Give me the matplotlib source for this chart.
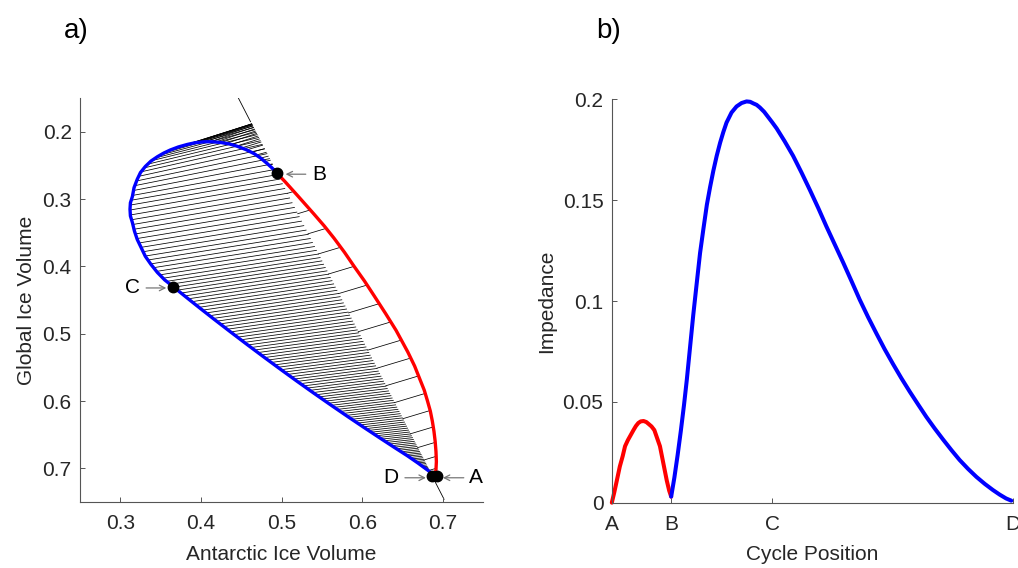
import numpy as np
import matplotlib.pyplot as plt

plt.rcParams['font.family'] = ['Liberation Sans', 'DejaVu Sans']

# panel a: loop in (Antarctic, Global) ice volume space
# blue part: B -> top -> C -> D
blue_x = [0.494, 0.488, 0.482, 0.474, 0.466, 0.456, 0.445, 0.435, 0.424, 0.414, 0.404,
          0.393, 0.383, 0.372, 0.362, 0.354, 0.346, 0.338, 0.331, 0.325, 0.321, 0.317,
          0.315, 0.3125, 0.312, 0.3125, 0.315, 0.3175, 0.321, 0.326, 0.331, 0.338, 0.346,
          0.355, 0.3655, 0.376, 0.387, 0.401, 0.416, 0.437, 0.458, 0.478, 0.499, 0.520,
          0.540, 0.561, 0.582, 0.602, 0.623, 0.640, 0.656, 0.669, 0.681, 0.689]
blue_y = [0.261, 0.2535, 0.247, 0.239, 0.2325, 0.2265, 0.2215, 0.218, 0.2158, 0.2148, 0.2148,
          0.2162, 0.2188, 0.2225, 0.227, 0.2315, 0.237, 0.2435, 0.2515, 0.2605, 0.2705, 0.283,
          0.296, 0.3055, 0.315, 0.325, 0.335, 0.3475, 0.360, 0.3725, 0.385, 0.397, 0.409,
          0.420, 0.430, 0.4402, 0.4508, 0.4641, 0.4782, 0.4976, 0.5167, 0.5346, 0.5531, 0.5713,
          0.5883, 0.6058, 0.623, 0.6391, 0.6557, 0.669, 0.6813, 0.692, 0.7025, 0.710]
# red part: B -> A
red_x = [0.494, 0.505, 0.520, 0.540, 0.553, 0.565, 0.578, 0.590, 0.603, 0.615, 0.629,
         0.642, 0.6565, 0.665, 0.671, 0.677, 0.681, 0.6845, 0.687, 0.689, 0.6905, 0.6915,
         0.692, 0.6915, 0.690]
red_y = [0.261, 0.275, 0.295, 0.322, 0.340, 0.358, 0.379, 0.400, 0.422, 0.444, 0.470,
         0.495, 0.527, 0.548, 0.566, 0.584, 0.600, 0.615, 0.630, 0.645, 0.660, 0.675,
         0.690, 0.702, 0.712]
pt_names = ['A', 'B', 'C', 'D']
pt_x = [0.6925, 0.494, 0.3655, 0.687]
pt_y = [0.712, 0.261, 0.430, 0.712]
# slope of the hatch lines (dGlobal/dAntarctic) against the height they start at
hatch_at_y = [0.21, 0.24, 0.30, 0.45, 0.71]
hatch_slope = [-0.42, -0.30, -0.21, -0.18, -0.12]

# panel b: impedance along the cycle
imp_red_x = [0, 0.006, 0.0125, 0.020, 0.027, 0.033, 0.040, 0.047, 0.054, 0.060, 0.066,
             0.072, 0.079, 0.086, 0.092, 0.099, 0.106, 0.113, 0.120, 0.128, 0.137, 0.143, 0.148]
imp_red_y = [0, 0.005, 0.011, 0.018, 0.023, 0.028, 0.031, 0.0335, 0.036, 0.038, 0.0395,
             0.0403, 0.0405, 0.040, 0.039, 0.0378, 0.036, 0.032, 0.028, 0.020, 0.011, 0.006, 0.003]
imp_blue_x = [0.148, 0.156, 0.164, 0.172, 0.180, 0.187, 0.195, 0.203, 0.2115, 0.220, 0.2285,
              0.237, 0.245, 0.253, 0.2615, 0.270, 0.278, 0.286, 0.2985, 0.311, 0.3235, 0.336,
              0.345, 0.353, 0.361, 0.369, 0.380, 0.390, 0.400, 0.411, 0.431, 0.452, 0.473,
              0.494, 0.515, 0.535, 0.556, 0.577, 0.598, 0.618, 0.639, 0.660, 0.680, 0.701,
              0.722, 0.743, 0.764, 0.784, 0.805, 0.826, 0.847, 0.867, 0.888, 0.909, 0.930,
              0.950, 0.967, 0.983, 0.996]
imp_blue_y = [0.003, 0.0125, 0.0235, 0.0355, 0.0485, 0.061, 0.077, 0.093, 0.1085, 0.1238, 0.136,
              0.1478, 0.1565, 0.1645, 0.172, 0.1785, 0.1838, 0.1885, 0.1935, 0.1965, 0.1982, 0.199,
              0.1988, 0.198, 0.1973, 0.196, 0.1938, 0.1912, 0.1886, 0.1856, 0.1792, 0.172, 0.1637,
              0.155, 0.146, 0.137, 0.128, 0.119, 0.1097, 0.1007, 0.092, 0.0838, 0.0762, 0.0688,
              0.0617, 0.0550, 0.0486, 0.0426, 0.0368, 0.0313, 0.0260, 0.0212, 0.0168, 0.0128, 0.0093,
              0.0063, 0.0040, 0.0021, 0.001]
cycle_ticks = [0, 0.148, 0.40, 1.0]

AX = '#262626'


def resample(xs, ys, n, warp):
    # points along a polyline, spaced by arc length (warp > 1 packs them toward the end)
    xs = np.asarray(xs); ys = np.asarray(ys)
    seg = np.hypot(np.diff(xs) * 804, np.diff(ys) * 674)
    s = np.concatenate([[0], np.cumsum(seg)])
    u = 1 - (1 - np.linspace(0, 1, n)) ** warp
    t = u * s[-1]
    return np.interp(t, s, xs), np.interp(t, s, ys)


def to_diag(x0, y0, m, xa, ya, k):
    # follow slope m from (x0, y0) until the line through A with slope k
    t = (y0 - ya - k * (x0 - xa)) / (k - m)
    return x0 + t, y0 + m * t


fig = plt.figure(figsize=(10.18, 5.68), dpi=100)
ax1 = fig.add_axes([0.0786, 0.1162, 0.396, 0.711])
ax2 = fig.add_axes([0.601, 0.115, 0.394, 0.710])

# diagonal through A and B
xa, ya = pt_x[3], pt_y[3]
k = (pt_y[1] - ya) / (pt_x[1] - xa)

hx, hy = resample(blue_x, blue_y, 150, 1.35)
hm = np.interp(hy, hatch_at_y, hatch_slope)
ex, ey = to_diag(hx, hy, hm, xa, ya, k)
for i in range(len(hx)):
    ax1.plot([hx[i], ex[i]], [hy[i], ey[i]], color='k', lw=0.55, zorder=1)

rx, ry = resample(red_x, red_y, 19, 1.3)
qx, qy = to_diag(rx, ry, -0.36, xa, ya, k)
for i in range(1, len(rx) - 1):
    ax1.plot([rx[i], qx[i]], [ry[i], qy[i]], color='k', lw=0.55, zorder=1)

top_y = np.array([0.15, 0.185])
bot_y = np.array([ya, 0.746])
ax1.plot(xa + (top_y - ya) / k, top_y, color='k', lw=0.6, zorder=1)
ax1.plot(xa + (bot_y - ya) / k, bot_y, color='k', lw=0.6, zorder=1)

ax1.plot(blue_x, blue_y, color='#0000ff', lw=2.4, solid_capstyle='round', zorder=3)
ax1.plot(red_x, red_y, color='#ff0000', lw=2.4, solid_capstyle='round', zorder=3)
ax1.plot(pt_x, pt_y, 'o', color='k', ms=7.5, zorder=4)

fs = 15
arrow = dict(arrowstyle='->', color='#777777', lw=0.9, shrinkA=0, shrinkB=0)
# B: label to the right
ax1.annotate('', xy=(0.505, 0.263), xytext=(0.530, 0.263), arrowprops=arrow)
ax1.text(0.538, 0.263, 'B', fontsize=fs, va='center', ha='left')
# C: label to the left
ax1.annotate('', xy=(0.357, 0.432), xytext=(0.332, 0.432), arrowprops=arrow)
ax1.text(0.324, 0.432, 'C', fontsize=fs, va='center', ha='right')
# D: label to the left
ax1.annotate('', xy=(0.679, 0.714), xytext=(0.653, 0.714), arrowprops=arrow)
ax1.text(0.645, 0.714, 'D', fontsize=fs, va='center', ha='right')
# A: label to the right
ax1.annotate('', xy=(0.700, 0.714), xytext=(0.726, 0.714), arrowprops=arrow)
ax1.text(0.733, 0.714, 'A', fontsize=fs, va='center', ha='left')

ax1.set_xlim(0.25, 0.75)
ax1.set_ylim(0.75, 0.15)
ax1.set_xticks([0.3, 0.4, 0.5, 0.6, 0.7])
ax1.set_yticks([0.2, 0.3, 0.4, 0.5, 0.6, 0.7])
ax1.set_xlabel('Antarctic Ice Volume', fontsize=fs, color=AX, labelpad=8)
ax1.set_ylabel('Global Ice Volume', fontsize=fs, color=AX, labelpad=5)

ax2.plot(imp_red_x, imp_red_y, color='#ff0000', lw=2.9, solid_capstyle='round', clip_on=False)
ax2.plot(imp_blue_x, imp_blue_y, color='#0000ff', lw=2.9, solid_capstyle='round', clip_on=False)
ax2.set_xlim(0, 1)
ax2.set_ylim(0, 0.2)
ax2.set_xticks(cycle_ticks)
ax2.set_xticklabels(pt_names)
ax2.set_yticks([0, 0.05, 0.1, 0.15, 0.2])
ax2.set_yticklabels(['0', '0.05', '0.1', '0.15', '0.2'])
ax2.set_xlabel('Cycle Position', fontsize=fs, color=AX, labelpad=8)
ax2.set_ylabel('Impedance', fontsize=fs, color=AX, labelpad=5)

for ax in (ax1, ax2):
    for s in ('top', 'right'):
        ax.spines[s].set_visible(False)
    for s in ('left', 'bottom'):
        ax.spines[s].set_color('#555555')
        ax.spines[s].set_linewidth(0.8)
    ax.tick_params(direction='in', length=3.5, width=0.7, color='#555555',
                   labelsize=fs, labelcolor=AX)
    ax.tick_params(axis='x', pad=9)
    ax.tick_params(axis='y', pad=6)

fig.text(0.063, 0.945, 'a)', fontsize=20, va='center')
fig.text(0.586, 0.945, 'b)', fontsize=20, va='center')

fig.savefig('out.png', dpi=100)
